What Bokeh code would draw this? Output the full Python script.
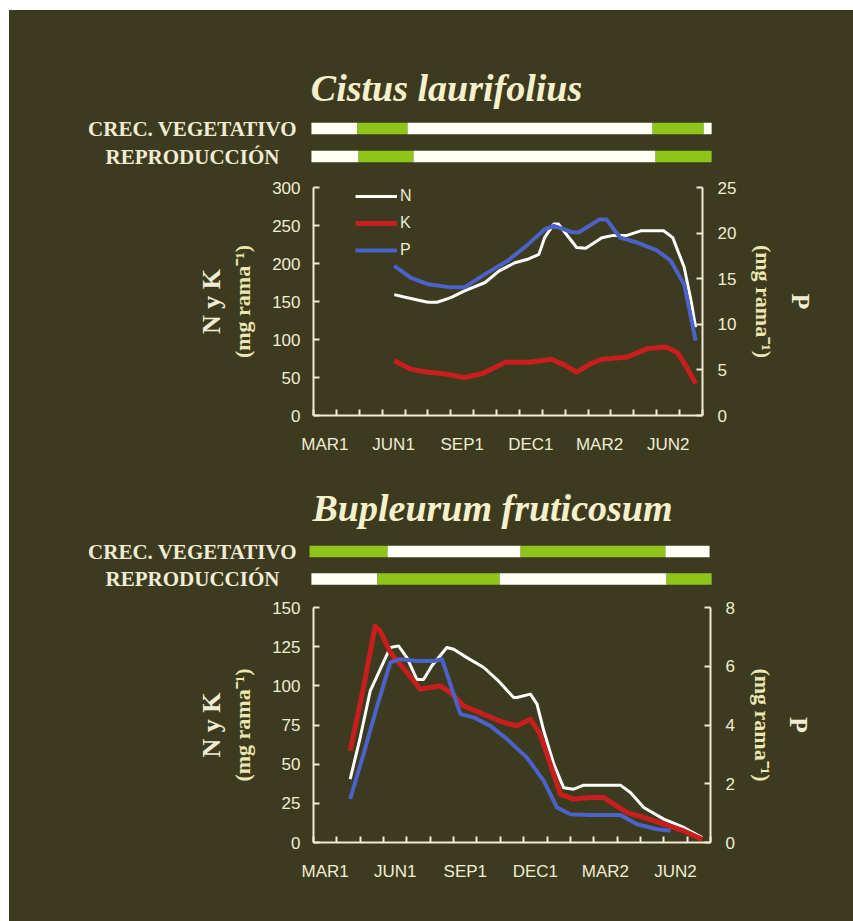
from bokeh.plotting import figure
from bokeh.models import (Range1d, LinearAxis, FixedTicker, Legend, LegendItem,
                          Label, ColumnDataSource)
from bokeh.layouts import column
from bokeh.embed import file_html
from bokeh.resources import INLINE
from bokeh.core.properties import value

# ---------------- data ----------------
months = ["MAR1", "APR1", "MAY1", "JUN1", "JUL1", "AUG1", "SEP1", "OCT1", "NOV1",
          "DEC1", "JAN2", "FEB2", "MAR2", "APR2", "MAY2", "JUN2", "JUL2"]
tick_labels = ["MAR1", "JUN1", "SEP1", "DEC1", "MAR2", "JUN2"]
row_names = ["CREC. VEGETATIVO", "REPRODUCCIÓN"]

# Cistus laurifolius (x in months from start of MAR1)
c_n_x = [3.53, 4.1, 5.0, 5.4, 6.0, 6.6, 7.5, 8.1, 8.8, 9.4, 9.85, 10.1, 10.5, 10.7, 11.5,
         11.9, 12.6, 13.1, 13.7, 14.3, 15.3, 15.7, 16.2, 16.5, 16.7]
c_n = [159, 155, 149, 149, 155, 164, 175, 190, 201, 206, 212, 234, 252, 252, 221,
       220, 234, 237, 237, 243, 243, 234, 195, 151, 116]
c_k_x = [3.53, 4.26, 5.0, 5.7, 6.6, 7.35, 8.4, 9.4, 10.4, 11.0, 11.5, 12.1, 12.6, 13.7,
         14.6, 15.4, 15.9, 16.3, 16.7]
c_k = [72, 61, 57, 55, 50, 55, 70, 70, 74, 66, 57, 68, 74, 77, 88, 90, 83, 64, 42]
c_p_x = [3.53, 4.26, 5.0, 6.0, 6.6, 7.5, 8.5, 9.3, 10.1, 10.5, 11.3, 11.6, 12.5, 12.8,
         13.4, 14.1, 15.0, 15.6, 16.2, 16.7]
c_p = [16.4, 15.1, 14.4, 14.05, 14.05, 15.5, 17.0, 18.6, 20.4, 20.8, 20.1, 20.1, 21.5,
       21.5, 19.5, 19.0, 18.1, 17.0, 14.4, 8.2]

# Bupleurum fruticosum
b_n_x = [1.57, 2.0, 2.43, 2.86, 3.29, 3.64, 4.0, 4.43, 4.71, 5.07, 5.71, 6.0, 6.57, 7.29,
         7.86, 8.57, 8.71, 9.29, 9.57, 9.86, 10.29, 10.71, 11.14, 11.57, 13.14, 13.57,
         14.14, 15.0, 15.86, 16.64]
b_n = [40.4, 67, 96.8, 110.6, 124.5, 125.5, 118, 104, 104, 112.8, 124.5, 123.4, 118,
       111.7, 104, 92.6, 92.6, 94.7, 88.3, 71.3, 50, 35, 34, 36.6, 36.6, 31.9, 22.3,
       14.9, 9.6, 3.2]
b_k_x = [1.57, 2.14, 2.64, 2.86, 3.29, 4.0, 4.57, 5.0, 5.43, 5.86, 6.43, 7.29, 8.14, 8.71,
         9.29, 9.71, 10.14, 10.57, 11.14, 11.86, 12.43, 12.86, 13.43, 14.14, 15.0, 15.86,
         16.64]
b_k = [58.5, 98.9, 138, 135, 121.3, 108.5, 97.9, 98.9, 100, 95.7, 87.2, 81.9, 76.6, 74.5,
       78.7, 69.1, 50, 30.9, 27.7, 28.7, 28.7, 24.5, 19.1, 16, 11.7, 7.4, 2.1]
b_p_x = [1.57, 2.14, 2.71, 3.29, 3.71, 4.43, 5.14, 5.5, 5.86, 6.29, 6.86, 7.57, 8.29,
         9.14, 9.86, 10.43, 11.0, 11.86, 13.14, 13.86, 14.71, 15.29]
b_p = [1.48, 3.0, 4.6, 6.13, 6.24, 6.18, 6.18, 6.24, 5.39, 4.37, 4.26, 3.97, 3.52, 2.89,
       2.1, 1.19, 0.96, 0.94, 0.94, 0.62, 0.45, 0.4]

# phenology periods (months); state 1 = active (green)
c_veg_start = [-0.09, 1.92, 4.11, 14.82, 17.05]
c_veg_end = [1.92, 4.11, 14.82, 17.05, 17.4]
c_veg_on = [0, 1, 0, 1, 0]
c_rep_start = [-0.09, 1.97, 4.37, 14.95]
c_rep_end = [1.97, 4.37, 14.95, 17.4]
c_rep_on = [0, 1, 0, 1]
b_veg_start = [-0.17, 3.17, 8.87, 15.07]
b_veg_end = [3.17, 8.87, 15.07, 16.96]
b_veg_on = [1, 0, 1, 0]
b_rep_start = [-0.09, 2.74, 7.97, 15.12]
b_rep_end = [2.74, 7.97, 15.12, 17.05]
b_rep_on = [0, 1, 0, 1]

# ---------------- styles / layout ----------------
BG = "#3d3b1f"
CREAM = "#f0ecd4"
YEL = "#ece6b2"
GREEN = "#8fc41a"
BARWHITE = "#fffff4"
WHITE = "#ffffff"
RED = "#c81e1e"
BLUE = "#4b62c9"
X0, Y0 = 9, 10          # top-left of the dark panel on the page
W = 844
SERIF = "Liberation Serif"
SANS = "Liberation Sans"


def bars_fig(height, top, frame_left, frame_right, row_y0, row_dy, label_x, title,
             title_x, title_y, veg, rep):
    # all pixel arguments are page coordinates
    mpx = (frame_right - frame_left) / 17.0
    xr = Range1d((X0 - frame_left) / mpx, (X0 + W - frame_left) / mpx)
    r0 = row_y0 - top
    yr = Range1d((height - r0) / row_dy, -r0 / row_dy)
    f = figure(width=W, height=height, x_range=xr, y_range=yr, output_backend="svg",
               toolbar_location=None, min_border=0, x_axis_location=None,
               y_axis_location=None, background_fill_color=BG, border_fill_color=BG,
               outline_line_color=None, frame_align=False)
    f.grid.visible = False
    for row, (s, e, on) in enumerate([veg, rep]):
        src = ColumnDataSource(dict(
            y=[row] * len(s), left=s, right=e,
            color=[GREEN if o else BARWHITE for o in on]))
        f.hbar(y="y", left="left", right="right", height=11.5 / row_dy, color="color",
               line_color=None, source=src)
    f.text(x=[(label_x - frame_left) / mpx] * 2, y=[0, 1], text=row_names,
           text_align="center", text_baseline="middle", text_color=CREAM,
           text_font=value(SERIF), text_font_style="bold", text_font_size="21px")
    f.add_layout(Label(x=(title_x - frame_left) / mpx, y=(title_y - row_y0) / row_dy,
                       text=title, text_align="center", text_baseline="middle",
                       text_color="#f6f1cc", text_font=SERIF,
                       text_font_style="bold italic", text_font_size="38px"))
    return f


def chart_fig(height, top, frame_h, frame_left, frame_right, ymax, ystep, pmax, pstep,
              series, legend=False):
    f = figure(width=W, height=height, x_range=Range1d(0, 17), y_range=Range1d(0, ymax),
               output_backend="svg", toolbar_location=None,
               min_border_left=frame_left - X0, min_border_right=X0 + W - frame_right,
               min_border_top=top, min_border_bottom=height - top - frame_h,
               background_fill_color=BG, border_fill_color=BG, outline_line_color=None,
               frame_align=False)
    f.grid.visible = False
    f.extra_y_ranges = {"P": Range1d(0, pmax)}

    def style(ax, ticks=True):
        ax.axis_line_color = CREAM if ticks else None
        ax.axis_line_width = 2
        ax.major_tick_line_color = CREAM
        ax.major_tick_line_width = 2
        ax.major_tick_in = 6
        ax.major_tick_out = 0
        ax.minor_tick_line_color = CREAM
        ax.minor_tick_line_width = 2
        ax.major_label_text_color = CREAM
        ax.major_label_text_font = SANS
        ax.major_label_text_font_size = "17px"

    # x axis
    xa = f.xaxis[0]
    style(xa)
    xa.ticker = FixedTicker(ticks=[months.index(m) + 0.5 for m in tick_labels],
                            minor_ticks=list(range(len(months) + 1)))
    xa.major_label_overrides = {months.index(m) + 0.5: m for m in tick_labels}
    xa.major_tick_in = 0
    xa.minor_tick_in = 6
    xa.minor_tick_out = 0
    xa.major_label_standoff = 19

    # left inner
    ya = f.yaxis[0]
    style(ya)
    ya.ticker = FixedTicker(ticks=list(range(0, ymax + 1, ystep)))
    ya.major_label_standoff = 13
    ya.axis_label = "(mg rama⁻¹)"
    ya.axis_label_text_font = SERIF
    ya.axis_label_text_font_style = "bold"
    ya.axis_label_text_font_size = "22px"
    ya.axis_label_text_color = YEL
    ya.axis_label_standoff = 14
    # left outer
    yo = LinearAxis(ticker=FixedTicker(ticks=[]), axis_line_color=None,
                    major_tick_line_color=None, minor_tick_line_color=None,
                    major_tick_out=0, minor_tick_out=0, axis_label="N y K",
                    axis_label_text_font=SERIF, axis_label_text_font_style="bold",
                    axis_label_text_font_size="26px", axis_label_text_color=CREAM,
                    axis_label_standoff=2)
    f.add_layout(yo, "left")
    # right inner
    ra = LinearAxis(y_range_name="P", ticker=FixedTicker(ticks=list(
        range(0, pmax + 1, pstep))))
    style(ra)
    ra.major_label_standoff = 15
    ra.axis_label = "(mg rama⁻¹)"
    ra.axis_label_text_font = SERIF
    ra.axis_label_text_font_style = "bold"
    ra.axis_label_text_font_size = "22px"
    ra.axis_label_text_color = YEL
    ra.axis_label_standoff = 12
    f.add_layout(ra, "right")
    ro = LinearAxis(y_range_name="P", ticker=FixedTicker(ticks=[]), axis_line_color=None,
                    major_tick_line_color=None, minor_tick_line_color=None,
                    major_tick_out=0, minor_tick_out=0, axis_label="P",
                    axis_label_text_font=SERIF, axis_label_text_font_style="bold",
                    axis_label_text_font_size="26px", axis_label_text_color=CREAM,
                    axis_label_standoff=6)
    f.add_layout(ro, "right")

    (nx, n), (kx, k), (px, pv) = series
    rn = f.line(nx, n, color=WHITE, line_width=3, line_join="round")
    rk = f.line(kx, k, color=RED, line_width=5, line_join="round")
    rp = f.line(px, pv, color=BLUE, line_width=4, line_join="round", y_range_name="P")
    if legend:
        lg = Legend(items=[LegendItem(label="N", renderers=[rn]),
                           LegendItem(label="K", renderers=[rk]),
                           LegendItem(label="P", renderers=[rp])],
                    location=(42, frame_h + 1 - 74), glyph_width=42, glyph_height=20,
                    spacing=7, padding=0, margin=0, label_standoff=3,
                    background_fill_alpha=0, border_line_alpha=0,
                    label_text_color=CREAM, label_text_font=SANS,
                    label_text_font_size="16px")
        f.add_layout(lg)
    return f


# page coordinates of each block
b1 = bars_fig(165, 10, 313, 702, 128, 28, 192, "Cistus laurifolius", 446, 87,
              (c_veg_start, c_veg_end, c_veg_on), (c_rep_start, c_rep_end, c_rep_on))
p1 = chart_fig(290, 12, 228, 313, 702, 300, 50, 25, 5,
               [(c_n_x, c_n), (c_k_x, c_k), (c_p_x, c_p)], legend=True)
b2 = bars_fig(130, 465, 313, 710, 551, 27.5, 192, "Bupleurum fruticosum", 492, 507,
              (b_veg_start, b_veg_end, b_veg_on), (b_rep_start, b_rep_end, b_rep_on))
p2 = chart_fig(326, 12, 235, 313, 710, 150, 25, 8, 2,
               [(b_n_x, b_n), (b_k_x, b_k), (b_p_x, b_p)])

layout = column(b1, p1, b2, p2, spacing=0, margin=(Y0, 0, 0, X0),
                styles={"background-color": BG})
open("out.html", "w").write(file_html(layout, INLINE))
